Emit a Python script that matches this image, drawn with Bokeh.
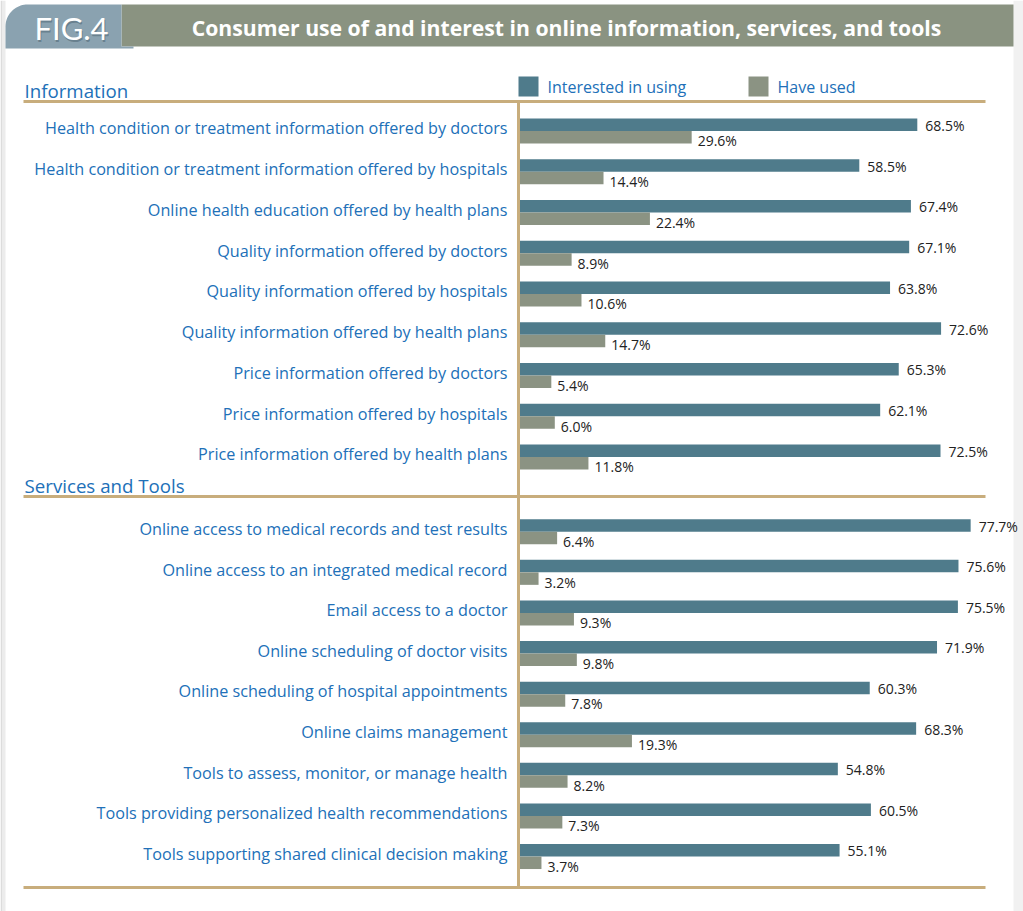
from bokeh.plotting import figure
from bokeh.models import Range1d, ColumnDataSource
from bokeh.core.properties import value
from bokeh.embed import file_html
from bokeh.resources import INLINE
import math

# ---------------- data ----------------
title = "Consumer use of and interest in online information, services, and tools"
fig_tag = "FIG.4"
series_names = ["Interested in using", "Have used"]
section_names = ["Information", "Services and Tools"]

info_labels = [
    "Health condition or treatment information offered by doctors",
    "Health condition or treatment information offered by hospitals",
    "Online health education offered by health plans",
    "Quality information offered by doctors",
    "Quality information offered by hospitals",
    "Quality information offered by health plans",
    "Price information offered by doctors",
    "Price information offered by hospitals",
    "Price information offered by health plans",
]
info_interested = [68.5, 58.5, 67.4, 67.1, 63.8, 72.6, 65.3, 62.1, 72.5]
info_used = [29.6, 14.4, 22.4, 8.9, 10.6, 14.7, 5.4, 6.0, 11.8]

svc_labels = [
    "Online access to medical records and test results",
    "Online access to an integrated medical record",
    "Email access to a doctor",
    "Online scheduling of doctor visits",
    "Online scheduling of hospital appointments",
    "Online claims management",
    "Tools to assess, monitor, or manage health",
    "Tools providing personalized health recommendations",
    "Tools supporting shared clinical decision making",
]
svc_interested = [77.7, 75.6, 75.5, 71.9, 60.3, 68.3, 54.8, 60.5, 55.1]
svc_used = [6.4, 3.2, 9.3, 9.8, 7.8, 19.3, 8.2, 7.3, 3.7]

# ---------------- layout / style ----------------
W, H = 1023, 911
X0 = 519.5      # pixel of 0%
S = 5.8         # pixels per percent
BLUE = "#4f7b8b"
GRAY = "#8b9383"
TAN = "#c8ad7c"
LABEL = "#2170b8"
VALTXT = "#222222"
FONT = "Open Sans"


def dx(px):
    return (px - X0) / S


p = figure(width=W, height=H, output_backend="svg", toolbar_location=None,
           x_range=Range1d(dx(0), dx(W)), y_range=Range1d(H, 0),
           min_border=0, min_border_left=0, min_border_right=0,
           min_border_top=0, min_border_bottom=0)
p.axis.visible = False
p.grid.visible = False
p.outline_line_color = None
p.background_fill_color = "white"
p.border_fill_color = "white"

# page edges
p.quad(left=[dx(0)], right=[dx(2)], top=[0], bottom=[H], color="#dcdcdc", line_color=None)
p.quad(left=[dx(2)], right=[dx(5)], top=[0], bottom=[H], color="#ececec", line_color=None)
p.quad(left=[dx(1013)], right=[dx(W)], top=[0], bottom=[H], color="#f1f1f1", line_color=None)

# header band
p.quad(left=[dx(121)], right=[dx(1013)], top=[4], bottom=[46], color="#8a9381", line_color=None)
# rounded tab
r = 22
xs, ys = [], []
for k in range(0, 21):
    a = math.pi + (math.pi / 2) * k / 20
    xs.append(dx(5 + r + r * math.cos(a)))
    ys.append(4 + r + r * math.sin(a))
xs += [dx(121), dx(121), dx(133), dx(133), dx(5)]
ys += [4, 46, 46, 48, 48]
p.patch(xs, ys, color="#8aa2b0", line_color=None)
p.text(x=[dx(71)], y=[27], text=[fig_tag], text_font=value("Lato"), text_font_size="31px",
       text_color="#3f5866", text_alpha=0.45, text_align="center", text_baseline="middle",
       x_offset=1, y_offset=2)
p.text(x=[dx(71)], y=[27], text=[fig_tag], text_font=value("Lato"), text_font_size="31px",
       text_color="white", text_align="center", text_baseline="middle")
p.text(x=[dx(566)], y=[27], text=[title], text_font=value(FONT), text_font_size="21.2px",
       text_font_style="bold", text_color="white", text_align="center", text_baseline="middle")

# legend
p.quad(left=[dx(518)], right=[dx(538)], top=[76], bottom=[96], color=BLUE, line_color=None)
p.quad(left=[dx(748)], right=[dx(768)], top=[76], bottom=[96], color=GRAY, line_color=None)
p.text(x=[dx(547), dx(777)], y=[86, 86], text=series_names, text_font=value(FONT),
       text_font_size="16px", text_color=LABEL, text_baseline="middle")

# section headings and rules
p.text(x=[dx(24), dx(24)], y=[90, 485], text=section_names, text_font=value(FONT),
       text_font_size="18.7px", text_color=LABEL, text_baseline="middle")
p.segment(x0=[dx(23)] * 3, x1=[dx(985)] * 3, y0=[101, 496, 887], y1=[101, 496, 887],
          line_color=TAN, line_width=3)
p.segment(x0=[dx(518)], x1=[dx(518)], y0=[101], y1=[887], line_color=TAN, line_width=3)

# rows
labels = info_labels + svc_labels
interested = info_interested + svc_interested
used = info_used + svc_used
yc = [124.25 + 40.75 * i for i in range(len(info_labels))] + \
     [525.0 + 40.6 * i for i in range(len(svc_labels))]
BH = 12.5

src = ColumnDataSource(dict(
    label=labels, interested=interested, used=used,
    yb=yc, yg=[y + BH for y in yc], ylab=[y + 3.5 for y in yc],
    yvb=[y + 0.5 for y in yc], yvg=[y + 16 for y in yc],
    lab_i=[f"{v:.1f}%" for v in interested], lab_u=[f"{v:.1f}%" for v in used],
))

p.hbar(y="yb", left=0, right="interested", height=BH, source=src, color=BLUE, line_color=None)
p.hbar(y="yg", left=0, right="used", height=BH, source=src, color=GRAY, line_color=None)

p.text(x=dx(507), y="ylab", text="label", source=src, text_font=value(FONT),
       text_font_size="16.2px", text_color=LABEL, text_align="right", text_baseline="middle")
p.text(x="interested", y="yvb", text="lab_i", source=src, x_offset=8, text_font=value(FONT),
       text_font_size="14px", text_color=VALTXT, text_baseline="middle")
p.text(x="used", y="yvg", text="lab_u", source=src, x_offset=6, text_font=value(FONT),
       text_font_size="14px", text_color=VALTXT, text_baseline="middle")

open("out.html", "w").write(file_html(p, INLINE))
